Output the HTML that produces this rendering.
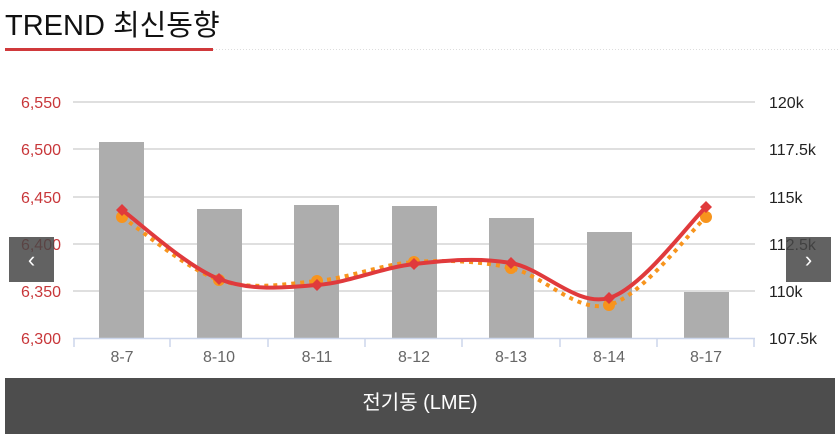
<!DOCTYPE html>
<html><head><meta charset="utf-8"><style>
body{margin:0;width:840px;height:434px;background:#fff;overflow:hidden;font-family:"Liberation Sans","Noto Sans CJK KR",sans-serif;position:relative}
.t{position:absolute;left:5px;top:2px;font-size:29px;color:#111}
.nav{position:absolute;width:45px;height:45px;background:rgba(70,70,70,0.85);color:#fff;font-size:22px;text-align:center;line-height:45px;top:237px}
.foot{position:absolute;left:5px;top:378px;width:830px;height:56px;background:#4d4d4d;color:#fff;font-size:20px;text-align:center;line-height:50px}
</style></head><body>
<div class="t">TREND 최신동향</div>
<svg width="840" height="434" style="position:absolute;left:0;top:0">
<rect x="5" y="48" width="208" height="3" fill="#d0393b"/>
<line x1="213" y1="49.5" x2="840" y2="49.5" stroke="#ddd" stroke-dasharray="1,2"/>
<g stroke="#ccc" stroke-width="1.2">
<line x1="73" y1="102" x2="755" y2="102"/><line x1="73" y1="149" x2="755" y2="149"/><line x1="73" y1="197" x2="755" y2="197"/><line x1="73" y1="244" x2="755" y2="244"/><line x1="73" y1="291" x2="755" y2="291"/>
</g>
<g fill="#adadad">
<rect x="99" y="142" width="45" height="196"/><rect x="197" y="209" width="45" height="129"/><rect x="294" y="205" width="45" height="133"/><rect x="392" y="206" width="45" height="132"/><rect x="489" y="218" width="45" height="120"/><rect x="587" y="232" width="45" height="106"/><rect x="684" y="292" width="45" height="46"/>
</g>
<g stroke="#ccd6eb" stroke-width="1.5">
<line x1="73" y1="338.5" x2="755" y2="338.5"/>
<line x1="74" y1="338" x2="74" y2="347"/><line x1="170" y1="338" x2="170" y2="347"/><line x1="268" y1="338" x2="268" y2="347"/><line x1="365" y1="338" x2="365" y2="347"/><line x1="462" y1="338" x2="462" y2="347"/><line x1="560" y1="338" x2="560" y2="347"/><line x1="657" y1="338" x2="657" y2="347"/><line x1="754" y1="338" x2="754" y2="347"/>
</g>
<path d="M122,217 C138,227.5 186.5,269.3 219,280 C251.5,290.7 284.5,284 317,281 C349.5,278 381.7,264.2 414,262 C446.3,259.8 478.5,260.8 511,268 C543.5,275.2 576.5,313.5 609,305 C641.5,296.5 690,231.7 706,217" fill="none" stroke="#f7941d" stroke-width="4" stroke-dasharray="4,5"/>
<g fill="#f7941d"><circle cx="122" cy="217" r="6"/><circle cx="219" cy="280" r="6"/><circle cx="317" cy="281" r="6"/><circle cx="414" cy="262" r="6"/><circle cx="511" cy="268" r="6"/><circle cx="609" cy="305" r="6"/><circle cx="706" cy="217" r="6"/></g>
<path d="M122,210 C138,221.5 186.5,266.5 219,279 C251.5,291.5 284.5,287.5 317,285 C349.5,282.5 381.7,267.7 414,264 C446.3,260.3 478.5,257.3 511,263 C543.5,268.7 576.5,307.3 609,298 C641.5,288.7 690,222 706,207" fill="none" stroke="#e03a3c" stroke-width="4"/>
<g fill="#e03a3c">
<path d="M122,204l6,6-6,6-6-6z"/><path d="M219,273l6,6-6,6-6-6z"/><path d="M317,279l6,6-6,6-6-6z"/><path d="M414,258l6,6-6,6-6-6z"/><path d="M511,257l6,6-6,6-6-6z"/><path d="M609,292l6,6-6,6-6-6z"/><path d="M706,201l6,6-6,6-6-6z"/>
</g>
<g fill="#c8373a" font-size="16" text-anchor="end" font-family="Liberation Sans,sans-serif">
<text x="61" y="108">6,550</text><text x="61" y="155">6,500</text><text x="61" y="203">6,450</text><text x="61" y="250">6,400</text><text x="61" y="297">6,350</text><text x="61" y="344">6,300</text>
</g>
<g fill="#222" font-size="16" font-family="Liberation Sans,sans-serif">
<text x="769" y="108">120k</text><text x="769" y="155">117.5k</text><text x="769" y="203">115k</text><text x="769" y="250">112.5k</text><text x="769" y="297">110k</text><text x="769" y="344">107.5k</text>
</g>
<g fill="#666" font-size="16" text-anchor="middle" font-family="Liberation Sans,sans-serif">
<text x="122" y="362">8-7</text><text x="219" y="362">8-10</text><text x="317" y="362">8-11</text><text x="414" y="362">8-12</text><text x="511" y="362">8-13</text><text x="609" y="362">8-14</text><text x="706" y="362">8-17</text>
</g>
</svg>
<div class="nav" style="left:9px">&#x2039;</div>
<div class="nav" style="left:786px">&#x203A;</div>
<div class="foot">전기동 (LME)</div>
</body></html>
